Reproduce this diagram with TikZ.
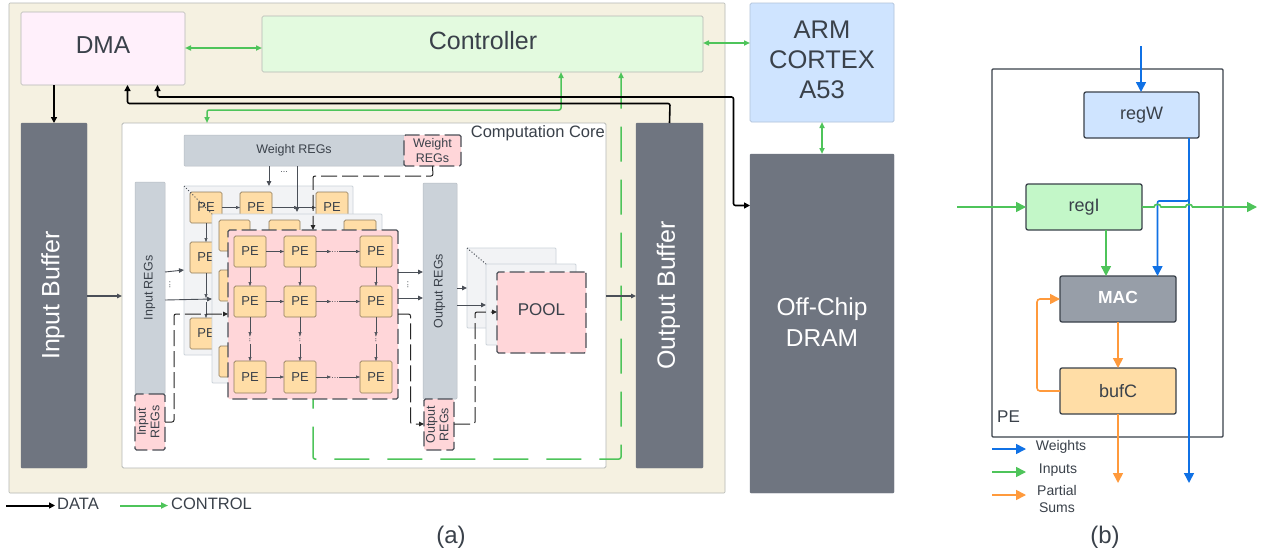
\documentclass[tikz,border=0pt]{standalone}
\usepackage{fontspec}
\setmainfont{Liberation Sans}
\usetikzlibrary{arrows.meta,calc}
\definecolor{ink}{HTML}{3A414A}
\definecolor{beige}{HTML}{F5F1E1}
\definecolor{edgeg}{HTML}{B5B8B4}
\definecolor{dmac}{HTML}{FFF0FB}
\definecolor{ctrlc}{HTML}{E3FADF}
\definecolor{armc}{HTML}{CFE4FF}
\definecolor{bufc}{HTML}{6F7580}
\definecolor{regc}{HTML}{CBD2D9}
\definecolor{pinkc}{HTML}{FFD6D9}
\definecolor{pec}{HTML}{FFDDA6}
\definecolor{panelc}{HTML}{F2F3F5}
\definecolor{linegreen}{HTML}{4EC45A}
\definecolor{lineblue}{HTML}{1071E5}
\definecolor{lineorange}{HTML}{FF9A3C}
\definecolor{thin}{HTML}{4A4F57}
\definecolor{regi}{HTML}{C3F7C8}
\definecolor{macc}{HTML}{979EA8}
\newcommand{\fs}[1]{\fontsize{#1}{#1}\selectfont}
\newcommand{\rot}[1]{\rotatebox{90}{\begin{tabular}{@{}c@{}}#1\end{tabular}}}
\newcommand{\bx}[7]{%
  \pgfmathsetmacro{\bxw}{#4-#2}\pgfmathsetmacro{\bxh}{#5-#3}%
  \pgfmathsetmacro{\bxx}{(#2+#4)/2}\pgfmathsetmacro{\bxy}{(#3+#5)/2}%
  \node[rectangle,inner sep=0pt,outer sep=0pt,text=ink,align=center,minimum width=\bxw pt,minimum height=\bxh pt,#6] (#1) at (\bxx,\bxy) {#7};}
\tikzset{
  plain/.style={draw=edgeg,line width=.7pt,rounded corners=1.5pt},
  darkbuf/.style={fill=bufc,draw=bufc,rounded corners=1pt,text=white},
  greyreg/.style={fill=regc,draw=regc!90!black,line width=.5pt,rounded corners=1pt},
  pinkbox/.style={fill=pinkc,draw=thin,line width=1.1pt,dash pattern=on 15pt off 5pt,rounded corners=1.5pt},
  panel/.style={fill=panelc,draw=regc,line width=.8pt,rounded corners=1pt},
  pe/.style={fill=pec,draw=black!25!pec!75!black,line width=.7pt,rounded corners=1.5pt,font=\fs{13}},
  pbox/.style={draw=ink,line width=1.3pt,rounded corners=2pt,font=\fs{18}},
  dotsn/.style={inner sep=0pt,text=thin,font=\fs{9}},
  tn/.style={inner sep=0pt,text=ink},
  blk/.style={draw=black,line width=1.6pt,rounded corners=2pt,-{Triangle[length=6pt,width=6pt]}},
  blkb/.style={draw=black,line width=1.6pt,rounded corners=2pt,{Triangle[length=6pt,width=6pt]}-{Triangle[length=6pt,width=6pt]}},
  grn/.style={draw=linegreen,line width=1.5pt,rounded corners=2pt,{Triangle[length=6pt,width=5pt]}-{Triangle[length=6pt,width=5pt]}},
  thinar/.style={draw=thin,line width=.5pt,-{Triangle[length=4pt,width=3pt]}},
  medar/.style={draw=thin,line width=.9pt,-{Triangle[length=5pt,width=4.5pt]}},
  dashar/.style={draw=black!85,line width=1pt,rounded corners=2pt,dash pattern=on 16pt off 5pt,-{Triangle[length=5pt,width=4.5pt]}},
  pbl/.style={draw=lineblue,line width=1.6pt,rounded corners=2pt,-{Triangle[length=10pt,width=10pt]}},
  pgr/.style={draw=linegreen,line width=1.6pt,rounded corners=2pt,-{Triangle[length=10pt,width=10pt]}},
  por/.style={draw=lineorange,line width=1.6pt,rounded corners=2pt,-{Triangle[length=10pt,width=10pt]}},
}
\begin{document}
\begin{tikzpicture}[x=1pt,y=-1pt]
\useasboundingbox (0,0) rectangle (1265,554);
\fill[white] (0,0) rectangle (1265,554);
% outer
\bx{outer}{9}{3}{725}{493}{fill=beige,draw=edgeg,line width=.6pt,rounded corners=1pt}{}
\bx{core}{122}{123}{606}{468}{fill=white,draw=edgeg,line width=.8pt,rounded corners=1.5pt}{}
\node[tn,font=\fs{16.5},anchor=north east] (corelabel) at (605,125) {Computation Core};
\bx{dma}{21}{12}{185}{85}{plain,fill=dmac}{}
\node[tn,font=\fs{24.5}] (dmat) at (103,45) {DMA};
\bx{ctrl}{262}{16}{703}{72}{plain,fill=ctrlc}{}
\node[tn,font=\fs{25}] (ctrlt) at (483,41) {Controller};
\bx{arm}{750}{3}{894}{122}{plain,draw=armc!85!black,fill=armc}{}
\node[tn,font=\fs{25.5},align=center] (armt) at (822,60) {ARM\\[4.5pt]CORTEX\\[4.5pt]A53};
\bx{inbuf}{21}{123}{87}{468}{darkbuf,font=\fs{25}}{\rot{Input Buffer}}
\bx{outbuf}{636}{123}{703}{468}{darkbuf,font=\fs{25}}{\rot{Output Buffer}}
\bx{dram}{750}{154}{894}{493}{darkbuf}{}
\node[tn,text=white,font=\fs{24.5},align=center] (dramt) at (822,322) {Off-Chip\\[6pt]DRAM};
% control and data links
\draw[grn] (dma.east |- 0,48) -- (ctrl.west |- 0,48);
\draw[grn] (ctrl.east |- 0,43) -- (arm.west |- 0,43);
\draw[grn] (arm.south) -- (dram.north);
\draw[grn] (561,0 |- ctrl.south) -- (561,110) -- (207,110) -- (207,0 |- core.north);
\draw[draw=linegreen,line width=1.5pt,rounded corners=2pt,dash pattern=on 35pt off 18pt,dash phase=4pt,{Triangle[length=6pt,width=5pt]}-] (621,0 |- ctrl.south) -- (621,459) -- (313,459) -- (313,399);
\draw[blk] (inbuf.north |- dma.south) -- (inbuf.north);
\draw[blk] (outbuf.north) -- (670,103.5) -- (127.5,103.5) -- (127.5,0 |- dma.south);
\draw[blkb] (157.5,0 |- dma.south) -- (157.5,97) -- (733.5,97) -- (733.5,205.5) -- (dram.west |- 0,205.5);
\draw[medar,line width=1.4pt] (inbuf.east |- 0,296) -- (core.west |- 0,296);
\draw[medar,line width=1.4pt] (core.east |- 0,296) -- (outbuf.west |- 0,296);
% weight regs
\bx{wreg}{184}{135}{404}{166}{greyreg,font=\fs{12.5}}{Weight REGs}
\bx{wpink}{404}{135}{461}{166}{pinkbox,font=\fs{12.5}}{Weight\\[2pt]REGs}
\bx{ireg}{135}{182}{165}{394}{greyreg,font=\fs{12.5}}{\rot{Input REGs}}
\bx{ipink}{135}{394}{165}{450}{pinkbox,font=\fs{12.5}}{\rot{Input\\[1pt]REGs}}
\bx{oreg}{423}{183}{457}{399}{greyreg,font=\fs{12.5}}{\rot{Output REGs}}
\bx{opink}{424}{399}{454}{450}{pinkbox,font=\fs{12.5}}{\rot{Output\\[1pt]REGs}}
% back PE layer
\bx{pback}{184}{186}{353}{355}{panel}{}
\bx{ba}{190}{192}{222}{223}{pe}{PE}
\bx{bb}{240}{192}{272}{223}{pe}{PE}
\bx{bc}{316}{192}{348}{223}{pe}{PE}
\bx{bd}{190}{242}{222}{273}{pe}{PE}
\bx{be}{190}{318}{222}{349}{pe}{PE}
\draw[thinar] (ba.east) -- (bb.west);
\draw[thinar] (bb.east) -- (298,207.5);
\draw[thinar] (299,207.5) -- (bc.west);
\draw[thinar] (ba.south) -- (bd.north);
\draw[thinar] (bd.south) -- (206,298);
\draw[thinar] (206,302) -- (be.north);
\node[dotsn] (wdots) at (284,172) {...};
\draw[medar] (269,0 |- wreg.south) -- (269,0 |- pback.north);
\draw[medar] (297,0 |- wreg.south) -- (297,212);
% middle layer
\bx{pmid}{212}{214}{382}{383}{panel}{}
\draw[dotted,line width=1pt,draw=thin] (pback.north west) -- (pmid.north west);
\bx{ma}{219}{220}{250}{251}{pe}{}
\bx{mb}{269}{220}{300}{251}{pe}{}
\bx{mc}{344}{220}{376}{251}{pe}{}
\bx{md}{219}{270}{250}{301}{pe}{}
\bx{me}{219}{346}{250}{377}{pe}{}
% front layer
\bx{pfront}{228}{230}{398}{399}{pinkbox}{}
\foreach \n/\xa/\xb in {a/234/266,b/284/316,c/360/392}{
  \foreach \m/\ya/\yb in {1/236/267,2/286/317,3/361/393}{
    \bx{f\n\m}{\xa}{\ya}{\xb}{\yb}{pe}{PE}
  }
}
\foreach \m in {1,2,3}{
  \draw[thinar] (fa\m.east) -- (fb\m.west);
  \node[dotsn] (hd\m) at ($(fb\m.east)!.5!(fc\m.west)+(-3,1)$) {...};
  \draw[thinar] (fb\m.east) -- (hd\m.west |- fb\m.east);
  \draw[thinar] (hd\m.east |- fc\m.west) -- (fc\m.west);
}
\foreach \n in {a,b,c}{
  \draw[thinar] (f\n1.south) -- (f\n2.north);
  \node[dotsn] (vd\n) at ($(f\n2.south)!.5!(f\n3.north)$) {\rotatebox{90}{...}};
  \draw[thinar] (f\n2.south) -- ($(vd\n.north)+(0,1)$);
  \draw[thinar] ($(vd\n.south)+(0,1)$) -- (f\n3.north);
}
% pool
\bx{poola}{467}{248}{556}{328}{panel}{}
\bx{poolb}{486}{264}{576}{345}{panel}{}
\draw[dotted,line width=1pt,draw=thin] (poola.north west) -- (poolb.north west);
\bx{pool}{497}{272}{586}{353}{pinkbox}{}
\node[tn,font=\fs{17}] (poolt) at (541.5,310) {POOL};
% core connectors
\draw[medar] (ireg.east |- 0,272) -- (pback.west |- 0,270);
\draw[medar] (ireg.east |- 0,300) -- (pmid.west |- 0,299);
\node[dotsn] (idots) at (170,285) {\rotatebox{90}{...}};
\draw[medar] (pfront.east |- 0,272) -- (oreg.west |- 0,272);
\draw[medar] (pfront.east |- 0,298) -- (oreg.west |- 0,298);
\node[dotsn] (odots) at (408,285) {\rotatebox{90}{...}};
\draw[medar] (oreg.east |- 0,288) -- (poola.west |- 0,288);
\draw[medar] (oreg.east |- 0,305) -- (poolb.west |- 0,305);
\draw[dashar] (wpink.south) -- (433,176) -- (313,176) -- (313,0 |- pfront.north);
\draw[dashar] (ipink.east |- 0,422) -- (174,422) -- (174,314) -- (pfront.west |- 0,314);
\draw[dashar] (pfront.east |- 0,314) -- (410.5,314) -- (410.5,424) -- (opink.west |- 0,424);
\draw[dashar] (opink.east |- 0,424) -- (475,424) -- (475,312) -- (pool.west |- 0,312);
% legend a
\coordinate (lda) at (6,505.5);
\node[tn,font=\fs{16.5},anchor=west] (ldata) at (57,504) {DATA};
\coordinate (ldb) at (55,505.5);
\draw[blk,line width=2pt] (lda) -- (ldb);
\coordinate (lca) at (120,505.5);
\node[tn,font=\fs{16.5},anchor=west] (lctrl) at (171,504) {CONTROL};
\coordinate (lcb) at (168,505.5);
\draw[draw=linegreen,line width=2pt,-{Triangle[length=7pt,width=6pt]}] (lca) -- (lcb);
\node[tn,font=\fs{24}] (capa) at (451,537) {(a)};
\node[tn,font=\fs{24}] (capb) at (1105,537) {(b)};
% PE detail
\bx{pedetail}{992}{69}{1223}{437}{draw=ink,line width=1.3pt,rounded corners=1pt}{}
\node[tn,font=\fs{17},anchor=west] (pelabel) at (997,417) {PE};
\bx{regw}{1084}{92}{1199}{138}{pbox,fill=armc}{regW}
\bx{regii}{1026}{184}{1142}{230}{pbox,fill=regi}{regI}
\bx{mac}{1060}{276}{1176}{322}{pbox,fill=macc,text=white,font=\fs{17.5}\bfseries}{}
\node[tn,text=white,font=\fs{17.5}\bfseries] (mact) at (1118,297) {MAC};
\bx{bufcb}{1060}{368}{1176}{414}{pbox,fill=pec}{bufC}
\coordinate (wtop) at (1141,46);
\draw[pbl] (wtop) -- (regw.north -| wtop);
\coordinate (wbot) at (1189,483);
\draw[draw=lineblue,line width=1.6pt,-{Triangle[length=10pt,width=10pt]}] (wbot |- regw.south) -- (wbot);
\draw[pbl] (1189,196) .. controls (1189,200) and (1188,201) .. (1185,201) -- (1161,201) .. controls (1158,201) and (1157.5,202) .. (1157.5,205) -- (1157.5,0 |- mac.north);
\coordinate (iin) at (957,207);
\coordinate (iout) at (1257,207);
\draw[pgr] (iin) -- (regii.west |- iin);
\draw[draw=linegreen,line width=1.6pt,-{Triangle[length=10pt,width=10pt]}] (regii.east |- iin) -- (1154,207) .. controls (1154,203.5) and (1161,203.5) .. (1161,207) -- (1185.5,207) .. controls (1185.5,203.5) and (1192.5,203.5) .. (1192.5,207) -- (iout);
\draw[pgr] (1106,0 |- regii.south) -- (1106,0 |- mac.north);
\draw[por] (mac.south) -- (bufcb.north);
\coordinate (pbot) at (1118,483);
\draw[por] (bufcb.south) -- (pbot);
\draw[por,rounded corners=3pt] (bufcb.west) -- (1037,391) -- (1037,299) -- (mac.west);
% legend b
\node[tn,font=\fs{14},anchor=center] (lw) at (1061,447) {Weights};
\node[tn,font=\fs{14},anchor=center] (li) at (1058,470) {Inputs};
\node[tn,font=\fs{14},align=center,anchor=center] (lp) at (1057,498.5) {Partial\\[3pt]Sums};
\coordinate (lwa) at (992,449);
\coordinate (lwb) at (1026,449);
\coordinate (lia) at (992,472);
\coordinate (lib) at (1026,472);
\coordinate (lpa) at (992,495);
\coordinate (lpb) at (1026,495);
\draw[pbl] (lwa) -- (lwb);
\draw[pgr] (lia) -- (lib);
\draw[por] (lpa) -- (lpb);
\end{tikzpicture}
\end{document}
